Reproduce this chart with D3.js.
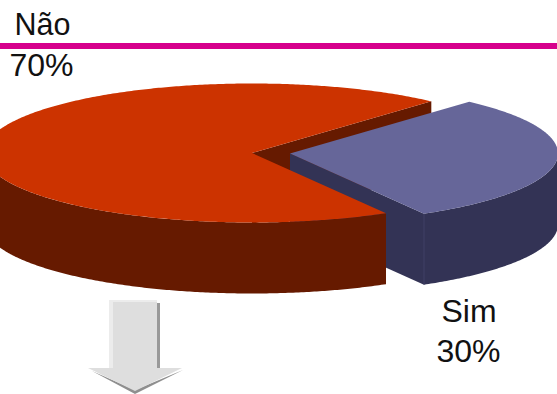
<!DOCTYPE html>
<html><head><meta charset="utf-8">
<script src="https://cdn.jsdelivr.net/npm/d3@7"></script>
<style>html,body{margin:0;padding:0;background:#fff;overflow:hidden}svg{display:block}
text{font-family:"Liberation Sans",Arial,sans-serif;fill:#111}</style>
</head><body><svg id="c" width="557" height="394"></svg>
<script>
const categories = ["Sim", "Não"];
const values = [30, 70];
const labels = ["30%", "70%"];
const topColors = ["#666699", "#CC3300"];
const sideColors = ["#333355", "#661A00"];

const W = 557, H = 394;
const rx = 268, ry = 69.5, depth = 71;
const cx = 252, cy = 153;
const explode = [38, 0.5];
const svg = d3.select("#c");

const startDeg = 42;
const pie = d3.pie().sort(null).startAngle(startDeg * Math.PI / 180).endAngle((startDeg + 360) * Math.PI / 180);
const arcs = pie(values);

const sx = d3.scaleLinear().domain([-1, 1]).range([cx - rx, cx + rx]);
const sy = d3.scaleLinear().domain([-1, 1]).range([cy - ry, cy + ry]);
const line = d3.line();
const pt = (a, off, dz) => [sx(Math.sin(a)) + off[0], sy(-Math.cos(a)) + off[1] + dz];
const sample = (a0, a1, off, dz) => {
  const n = Math.max(2, Math.ceil(Math.abs(a1 - a0) / 0.01));
  return d3.range(n + 1).map(i => pt(a0 + (a1 - a0) * i / n, off, dz));
};
const centre = (off, dz) => [sx(0) + off[0], sy(0) + off[1] + dz];
const topPath = (d, off) => line([centre(off, 0), ...sample(d.startAngle, d.endAngle, off, 0)]) + "Z";
const outerWall = (a0, a1, off) => line([...sample(a0, a1, off, 0), ...sample(a1, a0, off, depth)]) + "Z";
const radialWall = (a, off) => line([centre(off, 0), pt(a, off, 0), pt(a, off, depth), centre(off, depth)]) + "Z";

const sim = arcs[0], nao = arcs[1];
const none = [0, 0];
const east = Math.PI / 2, west = 3 * Math.PI / 2;

// back wall of the red slice, seen through the gap
svg.append("path").attr("d", radialWall(nao.endAngle, none)).attr("fill", sideColors[1]);

// exploded blue slice: front cut wall, visible outer wall, top
svg.append("path").attr("d", radialWall(sim.endAngle, explode)).attr("fill", sideColors[0]);
svg.append("path").attr("d", outerWall(east, sim.endAngle, explode)).attr("fill", sideColors[0]);
svg.append("path").attr("d", topPath(sim, explode)).attr("fill", topColors[0]);
const corner = pt(sim.endAngle, explode, 0);
svg.append("line").attr("x1", corner[0]).attr("y1", corner[1]).attr("x2", corner[0]).attr("y2", corner[1] + depth)
  .attr("stroke", "#44446a").attr("stroke-width", 0.8);

// red slice: visible outer wall, top
svg.append("path").attr("d", outerWall(nao.startAngle, west, none)).attr("fill", sideColors[1]);
svg.append("path").attr("d", topPath(nao, none)).attr("fill", topColors[1]);

// header rule
svg.append("rect").attr("x", 0).attr("y", 43).attr("width", W).attr("height", 6).attr("fill", "#D6008C");

// labels: text, centre x, baseline y, size
const texts = [
  [categories[1], 42.5, 35, 30.5], [labels[1], 41.5, 76, 32],
  [categories[0], 469, 322, 32], [labels[0], 468.5, 362, 32]
];
svg.selectAll("text").data(texts).join("text")
  .attr("x", d => d[1]).attr("y", d => d[2]).attr("font-size", d => d[3])
  .attr("text-anchor", "middle").text(d => d[0]);

// arrow annotation
svg.append("path").attr("d", line([[157,303],[160,303],[160,370],[157,370]]) + "Z").attr("fill", "#999");
svg.append("path").attr("d", line([[92,371],[135,394],[183,370],[135,390]]) + "Z").attr("fill", "#8f8f8f");
svg.append("path").attr("d", line([[110,300],[157,300],[157,368],[182,368],[135,391],[88,368],[110,368]]) + "Z").attr("fill", "#dedede");
svg.append("path").attr("d", line([[109,300],[157,300],[157,302],[113,302],[113,368],[109,368]]) + "Z").attr("fill", "#ececec");
</script></body></html>
